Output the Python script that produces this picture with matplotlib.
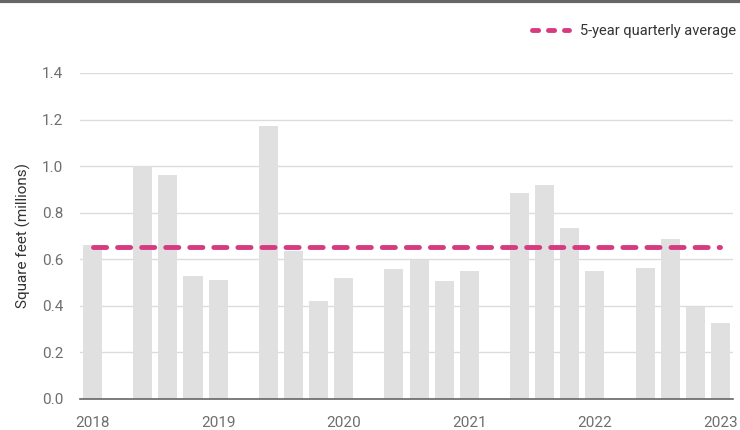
import matplotlib
matplotlib.use("Agg")
import matplotlib.pyplot as plt
from matplotlib.lines import Line2D

plt.rcParams['font.family'] = ['Roboto', 'DejaVu Sans']

# one slot per quarter, None = spacer slot between years
values = [0.66, None,
          1.00, 0.96, 0.53, 0.51, None,
          1.173, 0.635, 0.421, 0.52, None,
          0.557, 0.598, 0.505, 0.55, None,
          0.884, 0.917, 0.734, 0.548, None,
          0.562, 0.685, 0.393, 0.326]
year_labels = ['2018', '2019', '2020', '2021', '2022', '2023']
year_slots = [0, 5, 10, 15, 20, 25]
average = 0.652
y_ticks = [0.0, 0.2, 0.4, 0.6, 0.8, 1.0, 1.2, 1.4]

fig = plt.figure(figsize=(7.4, 4.3), dpi=100)
ax = fig.add_axes([80 / 740, 31 / 430, 653 / 740, 326 / 430])

xs = [i for i, v in enumerate(values) if v is not None]
hs = [v for v in values if v is not None]
ax.bar(xs, hs, width=0.76, color='#e0e0e0', zorder=2)

ax.plot([0, len(values) - 1], [average, average], color='#d63b80', lw=3.5,
        dashes=(2.7, 2.25), solid_capstyle='round', dash_capstyle='round', zorder=3)

ax.set_xlim(-0.5, len(values) - 0.5)
ax.set_ylim(0, 1.4)
ax.set_yticks(y_ticks)
ax.set_yticklabels([f'{t:.1f}' for t in y_ticks])
ax.set_xticks(year_slots)
ax.set_xticklabels(year_labels)
ax.grid(axis='y', color='#dcdcdc', lw=1, zorder=0)
ax.set_axisbelow(True)
for s in ['top', 'right', 'left']:
    ax.spines[s].set_visible(False)
ax.spines['bottom'].set_color('#666666')
ax.spines['bottom'].set_linewidth(1.2)
ax.spines['bottom'].set_zorder(4)
ax.tick_params(axis='both', length=0, labelsize=11, colors='#6e6e6e')
ax.tick_params(axis='y', pad=12)
ax.tick_params(axis='x', pad=12)
ax.set_ylabel('Square feet (millions)', fontsize=11, color='#333333', labelpad=8)

# legend
handle = Line2D([0], [0], color='#d63b80', lw=3.5, dashes=(1.26, 2.03),
                dash_capstyle='round')
leg = fig.legend([handle], ['5-year quarterly average'], loc='upper right',
                 bbox_to_anchor=(1.012, 0.975), frameon=False, fontsize=10.5,
                 handlelength=2.6, handletextpad=0.7, labelcolor='#333333')

# top rule
fig.add_artist(Line2D([0, 1], [0.9975, 0.9975], transform=fig.transFigure,
                      color='#666666', lw=3))

fig.savefig('out.png', dpi=100)
